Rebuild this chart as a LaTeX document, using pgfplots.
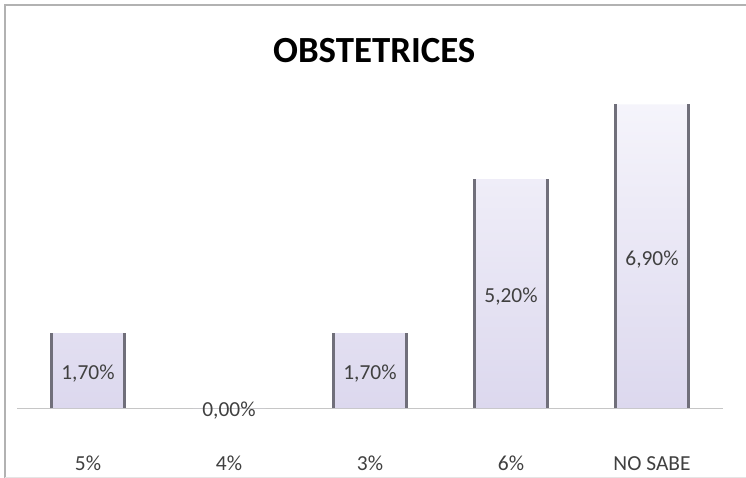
\documentclass[border=0pt]{standalone}
\usepackage{pgfplots}
\pgfplotsset{compat=1.18}
\usepackage{pgfplotstable}
\usepackage{fontspec}
\setmainfont{Carlito}

\definecolor{barTop}{RGB}{245,244,251}
\definecolor{barBot}{RGB}{220,216,238}
\definecolor{barEdge}{RGB}{112,111,122}
\definecolor{txt}{RGB}{64,64,64}

\pgfplotstableread{
x v
0 1.7
1 0
2 1.7
3 5.2
4 6.9
}\obst

\begin{document}
\begin{tikzpicture}
\path[use as bounding box] (-88bp,-70bp) rectangle (658bp,408bp);
% chart frame
\draw[gray!60, line width=1.3bp] (-83bp,-72bp) -- (-83bp,403bp) -- (660bp,403bp);
\draw[gray!20, line width=0.8bp] (-83bp,-69bp) -- (660bp,-69bp);
\begin{axis}[
  anchor=origin, at={(0,0)},
  x=141bp, y=44bp,
  xmin=-0.5, xmax=4.5, ymin=0, ymax=8,
  clip=false,
  hide y axis,
  axis x line*=bottom,
  x axis line style={gray!45, line width=1bp},
  xtick={0,1,2,3,4},
  xticklabels={5\%,4\%,3\%,6\%,NO SABE},
  xtick style={draw=none},
  xticklabel style={anchor=base, yshift=-62bp, font=\fontsize{21.5}{24}\selectfont, text=txt},
]
\addplot[ybar, bar width=73bp, draw=none, shade, top color=barTop, bottom color=barBot]
  table[x=x, y=v] {\obst};
% darker side edges of each bar
\addplot[ycomb, mark=none, barEdge, line width=2.1bp] table[x expr=\thisrow{x}-0.259, y=v] {\obst};
\addplot[ycomb, mark=none, barEdge, line width=2.1bp] table[x expr=\thisrow{x}+0.259, y=v] {\obst};
% value labels, centred in each bar
\addplot[draw=none, mark=none, point meta=explicit,
  nodes near coords={\pgfmathprintnumber[assume math mode=true,fixed,fixed zerofill,precision=2,use comma]{\pgfplotspointmeta}\%},
  nodes near coords style={anchor=center, yshift=-3bp, font=\fontsize{21.5}{24}\selectfont, text=txt}]
  table[x=x, y expr=\thisrow{v}/2, meta=v] {\obst};
\node[anchor=base, font=\bfseries\fontsize{37}{40}\selectfont] at (axis cs:2.03,7.86) {OBSTETRICES};
\end{axis}
\end{tikzpicture}
\end{document}
